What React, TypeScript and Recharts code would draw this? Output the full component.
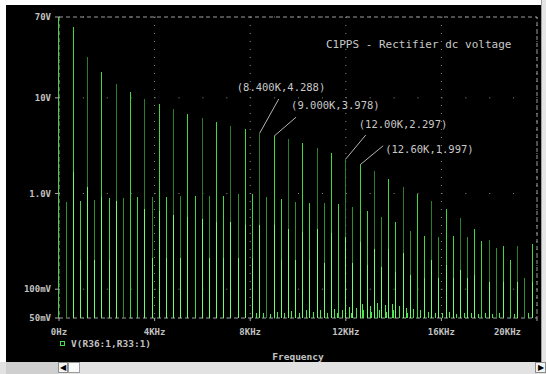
import { ComposedChart, Bar, Cell, XAxis, YAxis, CartesianGrid, ReferenceArea, ReferenceDot } from 'recharts';

// harmonics of 600Hz (ripple of the rectifier)
const mainFreq = [0, 600, 1200, 1800, 2400, 3000, 3600, 4200, 4800, 5400, 6000, 6600, 7200, 7800, 8400, 9000, 9600, 10200, 10800, 11400, 12000, 12600, 13200, 13800, 14400, 15000, 15600, 16200, 16800, 17400, 18000, 18600, 19200, 19800];
const mainVolts = [70, 55.5, 26.8, 18.5, 14.1, 11.5, 9.8, 8.65, 7.66, 6.79, 6.11, 5.55, 5.07, 4.69, 4.288, 3.978, 3.68, 3.39, 3.0, 2.66, 2.297, 1.997, 1.72, 1.43, 1.18, 0.99, 0.83, 0.69, 0.55, 0.43, 0.33, 0.28, 0.28, 0.3];

// odd multiples of 300Hz
const oddFreq = [300, 900, 1500, 2100, 2700, 3300, 3900, 4500, 5100, 5700, 6300, 6900, 7500, 8100, 8700, 9300, 9900, 10500, 11100, 11700, 12300, 12900, 13500, 14100, 14700, 15300, 15900, 16500, 17100, 17700, 18300, 18900, 19500];
const oddVolts = [0.82, 0.84, 0.86, 0.89, 0.89, 0.91, 0.93, 0.93, 0.95, 0.95, 0.95, 0.95, 0.98, 0.98, 0.93, 0.88, 0.82, 0.8, 0.79, 0.77, 0.72, 0.65, 0.57, 0.5, 0.41, 0.36, 0.35, 0.36, 0.35, 0.32, 0.27, 0.2, 0.13];

// second, lower trace sitting on the same lines
const lowFreq = [600, 900, 1200, 1500, 1800, 2100, 2400, 3600, 3900, 4200, 4500, 4800, 5100, 5400, 6000, 6300, 6600, 6900, 7200, 7500, 7800, 8100, 8400, 9000, 9300, 9600, 9900, 10200, 10500, 10800, 11100, 11400, 12000, 12300, 12600, 12900, 13200, 13500, 13800, 14100, 14400, 14700, 15300, 15600, 15900, 16200, 16500, 16800, 17100, 17400, 18000, 18600, 19200, 19800];
const lowVolts = [1.68, 0.2, 1.16, 0.2, 0.93, 0.2, 0.83, 0.69, 0.21, 0.65, 0.21, 0.6, 0.21, 0.57, 0.54, 0.21, 0.51, 0.21, 0.5, 0.21, 0.47, 0.21, 0.47, 0.47, 0.2, 0.43, 0.2, 0.4, 0.2, 0.43, 0.19, 0.39, 0.35, 0.19, 0.31, 0.18, 0.26, 0.17, 0.26, 0.15, 0.24, 0.14, 0.13, 0.2, 0.13, 0.18, 0.13, 0.16, 0.13, 0.14, 0.12, 0.12, 0.12, 0.12];

// grass on the floor
const noiseFreq = [8250, 8550, 8850, 9150, 9450, 9750, 10050, 10350, 10650, 10950, 11250, 11550, 11650, 11850, 12150, 12250, 12450, 12700, 12750, 13050, 13100, 13350, 13400, 13650, 13700, 13950, 14000, 14250, 14550, 14600, 14850, 15150, 15450, 15750, 16050, 16350, 16650, 16950, 17250, 17550, 17850, 18150, 18450, 19050, 19650];
const noiseVolts = [0.056, 0.057, 0.055, 0.058, 0.056, 0.059, 0.057, 0.06, 0.058, 0.061, 0.057, 0.062, 0.056, 0.06, 0.065, 0.057, 0.063, 0.07, 0.06, 0.066, 0.058, 0.072, 0.06, 0.068, 0.058, 0.07, 0.06, 0.066, 0.064, 0.056, 0.062, 0.06, 0.058, 0.057, 0.056, 0.058, 0.055, 0.057, 0.056, 0.055, 0.056, 0.055, 0.056, 0.055, 0.056];

const xTicks = [0, 4000, 8000, 12000, 16000, 20000];
const xTickLabels = ['0Hz', '4KHz', '8KHz', '12KHz', '16KHz', '20KHz'];
const yTicks = [0.05, 0.1, 1, 10, 70];
const yTickLabels = ['50mV', '100mV', '1.0V', '10V', '70V'];

const markerFreq = [8400, 9000, 12000, 12600];
const markerVolts = [4.288, 3.978, 2.297, 1.997];
const markerText = ['(8.400K,4.288)', '(9.000K,3.978)', '(12.00K,2.297)', '(12.60K,1.997)'];
// leader end and text offsets (px) relative to the line tip
const markerLayout = [
  { lx: 19, ly: -34, tx: -23, ty: -42 },
  { lx: 22, ly: -19, tx: 17, ty: -27 },
  { lx: 20, ly: -24, tx: 13, ty: -31 },
  { lx: 23, ly: -19, tx: 25, ty: -12 },
];

const rowMap = new Map<number, any>();
const put = (fs: number[], vs: number[], key: string) =>
  fs.forEach((f, i) => {
    const r = rowMap.get(f) ?? { f };
    r[key] = vs[i];
    rowMap.set(f, r);
  });
put(mainFreq, mainVolts, 'main');
put(oddFreq, oddVolts, 'odd');
put(lowFreq, lowVolts, 'low');
put(noiseFreq, noiseVolts, 'noise');
const data = [...rowMap.values()].sort((a, b) => a.f - b.f);

const axisFont = { fill: '#c2c2c2', fontSize: 9, fontFamily: 'DejaVu Sans Mono', fontWeight: 'bold' as const };
const labelFont = 'DejaVu Sans Mono';

function FreqTick({ x, y, payload }: any) {
  const i = xTicks.indexOf(payload.value);
  const last = payload.value === 20000;
  return (
    <text x={x} y={y} dy={12} textAnchor={last ? 'end' : 'middle'} {...axisFont}>
      {xTickLabels[i]}
    </text>
  );
}

function Marker(k: number) {
  return ({ cx, cy }: any) => {
    const m = markerLayout[k];
    return (
      <g>
        <line x1={cx} y1={cy} x2={cx + m.lx} y2={cy + m.ly} stroke="#b4b4b4" strokeWidth={1} />
        <text x={cx + m.tx} y={cy + m.ty} fill="#c8c8c8" fontSize={10.5} fontFamily={labelFont}>
          {markerText[k]}
        </text>
      </g>
    );
  };
}

export default function App() {
  return (
    <div style={{ position: 'fixed', left: 0, top: 0, width: 546, height: 374, background: '#fff', overflow: 'hidden' }}>
      <div style={{ position: 'absolute', left: 6, top: 5, width: 535, height: 357, background: '#000' }}>
        <ComposedChart width={535} height={357} data={data} margin={{ top: 12, right: 4, left: 0, bottom: 0 }} barSize={1} barGap={-1}>
          <CartesianGrid horizontal={false} stroke="#8c8c8c" strokeDasharray="1 7" />
          <CartesianGrid vertical={false} stroke="#8c8c8c" strokeDasharray="1 22.9" />
          <ReferenceArea x1={0} x2={20000} y1={0.05} y2={70} fill="none" stroke="#9c9c9c" strokeDasharray="4 3" />
          <XAxis
            type="number"
            dataKey="f"
            domain={[0, 20000]}
            ticks={xTicks}
            axisLine={false}
            tickLine={{ stroke: '#a8a8a8' }}
            tickSize={3}
            tickMargin={2}
            height={44}
            tick={<FreqTick />}
            label={{ value: 'Frequency', position: 'insideBottom', offset: 2, fill: '#c2c2c2', fontSize: 9.5, fontFamily: labelFont, fontWeight: 'bold' }}
          />
          <YAxis
            type="number"
            scale="log"
            domain={[0.05, 70]}
            ticks={yTicks}
            axisLine={false}
            tickLine={{ stroke: '#a8a8a8' }}
            tickSize={4}
            tickMargin={4}
            width={53}
            tick={axisFont}
            tickFormatter={(v: number) => yTickLabels[yTicks.indexOf(v)]}
          />
          <Bar dataKey="main" isAnimationActive={false} shapeRendering="crispEdges">
            {data.map((r) => (
              <Cell key={r.f} fill={Math.round(r.f / 600) % 2 === 0 && r.f > 0 ? '#2a7d2a' : '#3fd83f'} />
            ))}
          </Bar>
          <Bar dataKey="odd" isAnimationActive={false} shapeRendering="crispEdges">
            {data.map((r) => (
              <Cell key={r.f} fill={Math.round((r.f - 300) / 600) % 2 === 0 ? '#2e8f2e' : '#43d843'} />
            ))}
          </Bar>
          <Bar dataKey="low" fill="#6cff6c" isAnimationActive={false} shapeRendering="crispEdges" />
          <Bar dataKey="noise" fill="#4ee84e" isAnimationActive={false} shapeRendering="crispEdges" />
          {markerFreq.map((f, k) => (
            <ReferenceDot key={f} x={f} y={markerVolts[k]} r={0} shape={Marker(k)} />
          ))}
        </ComposedChart>
        <div style={{ position: 'absolute', left: 320, top: 33, color: '#c8c8c8', fontFamily: labelFont, fontSize: 11, whiteSpace: 'pre' }}>
          C1PPS - Rectifier dc voltage
        </div>
        <div style={{ position: 'absolute', left: 54, top: 333, display: 'flex', alignItems: 'center', color: '#c2c2c2', fontFamily: labelFont, fontSize: 9.5, fontWeight: 'bold' }}>
          <span style={{ display: 'inline-block', width: 3, height: 3, border: '1px solid #47e047', marginRight: 6 }} />
          V(R36:1,R33:1)
        </div>
      </div>
      <div style={{ position: 'absolute', left: 541, top: 0, width: 5, height: 362, background: '#e4e4e4', borderLeft: '1px solid #a0a0a0' }} />
      <div style={{ position: 'absolute', left: 0, top: 362, width: 546, height: 12, background: '#e2e2e2' }}>
        <div style={{ position: 'absolute', left: 6, top: 0, width: 52, height: 12, background: '#cfcfcf' }} />
        <div style={{ position: 'absolute', left: 58, top: 0, width: 10, height: 11, background: '#f4f4f4', border: '1px solid #8c8c8c', boxSizing: 'border-box', fontSize: 8, lineHeight: '10px', textAlign: 'center' }}>◀</div>
        <div style={{ position: 'absolute', left: 68, top: 0, width: 12, height: 11, background: '#fafafa', border: '1px solid #9c9c9c', boxSizing: 'border-box' }} />
        <div style={{ position: 'absolute', left: 535, top: 0, width: 11, height: 11, background: '#f4f4f4', border: '1px solid #8c8c8c', boxSizing: 'border-box', fontSize: 8, lineHeight: '10px', textAlign: 'center' }}>▶</div>
      </div>
    </div>
  );
}
